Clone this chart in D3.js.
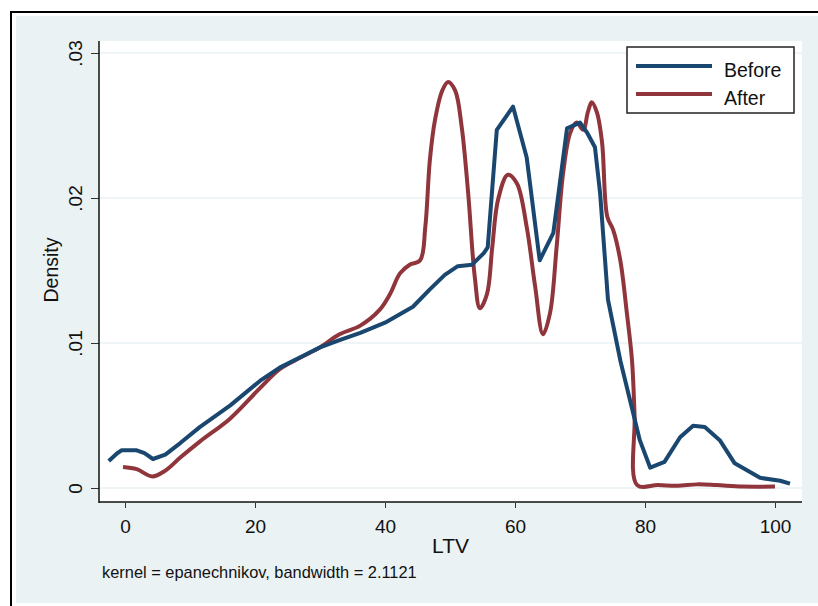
<!DOCTYPE html>
<html>
<head>
<meta charset="utf-8">
<script src="https://cdn.jsdelivr.net/npm/d3@7"></script>
<style>
  body { margin: 0; background: #fff; }
  svg text { font-family: "Liberation Sans", Arial, sans-serif; fill: #111; }
</style>
</head>
<body>
<svg id="chart" width="818" height="606"></svg>
<script>
// values
let beforeX = [-2.5, -1.2, -0.5, 1.8, 3, 4.3, 6.2, 8.5, 11.5, 16.2, 20.8, 23.8, 26.9, 30, 33, 36.2, 40, 44.3, 46.9, 49.2, 51.2, 53.4, 55.2, 55.8, 57.2, 59.7, 61.8, 63.8, 65.9, 68, 70, 71.1, 72.3, 73.1, 74.3, 76.2, 79.2, 80.8, 83, 85.4, 87.4, 89.2, 91.5, 93.8, 97.7, 100.8, 102.3];
let beforeY = [0.00186, 0.0024, 0.0026, 0.0026, 0.0024, 0.0020, 0.0023, 0.0031, 0.0042, 0.0057, 0.0074, 0.0083, 0.0090, 0.0097, 0.0102, 0.0107, 0.0114, 0.0125, 0.0137, 0.0147, 0.0153, 0.0154, 0.0162, 0.0166, 0.0247, 0.0263, 0.0228, 0.0157, 0.0176, 0.0248, 0.0252, 0.0245, 0.0235, 0.0203, 0.013, 0.0088, 0.0033, 0.0014, 0.0018, 0.0035, 0.0043, 0.0042, 0.0033, 0.0017, 0.0007, 0.0005, 0.0003];

let afterX = [-0.3, 1.8, 4.2, 6.2, 8.5, 11.5, 16.2, 20.8, 23.8, 27, 30, 33, 36.2, 39.2, 40.8, 42.3, 43.8, 45.4, 46.2, 46.9, 47.7, 48.8, 49.7, 50.8, 51.8, 52.8, 53.8, 54.6, 55.7, 56.5, 57.4, 58.9, 60.3, 61.8, 63.1, 64.3, 65.4, 66.4, 67.4, 68.5, 69.5, 70.5, 71.2, 71.8, 72.6, 73.4, 74.2, 75.1, 76.2, 77.2, 78, 78.4, 78.8, 82, 85, 88, 91, 95, 100];
let afterY = [0.00145, 0.0013, 0.0008, 0.0012, 0.0021, 0.0032, 0.0048, 0.0069, 0.0082, 0.0090, 0.0097, 0.0106, 0.0112, 0.0123, 0.0134, 0.0148, 0.0154, 0.0157, 0.018, 0.0226, 0.0254, 0.0274, 0.028, 0.0274, 0.0249, 0.0203, 0.0146, 0.0124, 0.0134, 0.0166, 0.0199, 0.0216, 0.021, 0.018, 0.0139, 0.0106, 0.0121, 0.0166, 0.0217, 0.0245, 0.0252, 0.0247, 0.0259, 0.0266, 0.0259, 0.0238, 0.0187, 0.0178, 0.0157, 0.0121, 0.0088, 0.005, 0.0002, 0.0002, 0.00015, 0.00025, 0.0002, 0.0001, 0.0001];

let xTicks = [0, 20, 40, 60, 80, 100];
let yTicks = [0, 0.01, 0.02, 0.03];
let yTickLabels = ['0', '.01', '.02', '.03'];
let seriesNames = ['Before', 'After'];
let seriesColors = ['#1a476f', '#90353b'];

let svg = d3.select('#chart');

// plot region
let plotLeft = 99, plotRight = 802, plotTop = 41, plotBottom = 502;

let x = d3.scaleLinear().domain([0, 100]).range([125, 775]);
let y = d3.scaleLinear().domain([0, 0.03]).range([488, 53]);

// outer frame + graph region
svg.append('rect').attr('x', 16).attr('y', 16).attr('width', 802).attr('height', 587).attr('fill', '#eaf2f3');
svg.append('line').attr('x1', 11).attr('x2', 11).attr('y1', 11).attr('y2', 606).attr('stroke', '#000').attr('stroke-width', 2);
svg.append('line').attr('x1', 10).attr('x2', 818).attr('y1', 12).attr('y2', 12).attr('stroke', '#000').attr('stroke-width', 2);

svg.append('rect').attr('x', plotLeft).attr('y', plotTop)
  .attr('width', plotRight - plotLeft).attr('height', plotBottom - plotTop).attr('fill', '#fff');

// gridlines
svg.selectAll('.grid').data(yTicks).enter().append('line')
  .attr('x1', plotLeft).attr('x2', plotRight)
  .attr('y1', d => y(d)).attr('y2', d => y(d))
  .attr('stroke', '#eaf2f3').attr('stroke-width', 1.5);

// axes
let yAxis = d3.axisLeft(y).tickValues(yTicks).tickSize(8).tickFormat((d, i) => yTickLabels[i]);
let gy = svg.append('g').attr('transform', `translate(${plotLeft},0)`).call(yAxis);
gy.select('.domain').remove();
gy.selectAll('.tick line').attr('stroke', '#333').attr('stroke-width', 1);
gy.selectAll('.tick text')
  .attr('x', null).attr('dy', null)
  .attr('transform', 'translate(-17,0) rotate(-90)')
  .attr('text-anchor', 'middle')
  .style('font-size', '19px');

let xAxis = d3.axisBottom(x).tickValues(xTicks).tickSize(6).tickPadding(0);
let gx = svg.append('g').attr('transform', `translate(0,${plotBottom})`).call(xAxis);
gx.select('.domain').remove();
gx.selectAll('.tick line').attr('stroke', '#333').attr('stroke-width', 1).attr('y1', 1).attr('y2', 6);
gx.selectAll('.tick text').attr('y', 31).attr('dy', null).style('font-size', '19px');

svg.append('line').attr('x1', plotLeft).attr('x2', plotLeft).attr('y1', plotTop).attr('y2', plotBottom + 1)
  .attr('stroke', '#111').attr('stroke-width', 1.5);
svg.append('line').attr('x1', plotLeft).attr('x2', plotRight).attr('y1', plotBottom).attr('y2', plotBottom)
  .attr('stroke', '#111').attr('stroke-width', 1.5);

// titles
svg.append('text').attr('x', (plotLeft + plotRight) / 2).attr('y', 553).attr('text-anchor', 'middle')
  .style('font-size', '21px').text('LTV');
svg.append('text').attr('transform', `translate(58,270) rotate(-90)`).attr('text-anchor', 'middle')
  .style('font-size', '19.5px').text('Density');
svg.append('text').attr('x', 102).attr('y', 578).style('font-size', '16.4px')
  .text('kernel = epanechnikov, bandwidth = 2.1121');

// density lines: Before is drawn straight-segmented, After smoother
let lineBefore = d3.line()
  .x(d => x(d[0]))
  .y(d => y(d[1]));
let lineAfter = d3.line()
  .x(d => x(d[0]))
  .y(d => y(d[1]))
  .curve(d3.curveCatmullRom.alpha(0.5));

let series = [d3.zip(beforeX, beforeY), d3.zip(afterX, afterY)];
let lines = [lineBefore, lineAfter];
svg.selectAll('.density').data([1, 0]).enter().append('path')
  .attr('d', i => lines[i](series[i]))
  .attr('fill', 'none')
  .attr('stroke', i => seriesColors[i])
  .attr('stroke-width', 4)
  .attr('stroke-linejoin', 'round');

// legend
let legend = svg.append('g');
legend.append('rect').attr('x', 627).attr('y', 47).attr('width', 167).attr('height', 66)
  .attr('fill', '#fff').attr('stroke', '#222').attr('stroke-width', 1.5);
seriesNames.forEach((name, i) => {
  legend.append('line').attr('x1', 636).attr('x2', 712).attr('y1', 66 + i * 28).attr('y2', 66 + i * 28)
    .attr('stroke', seriesColors[i]).attr('stroke-width', 4);
  legend.append('text').attr('x', 724).attr('y', 76.5 + i * 28).style('font-size', '19.5px').text(name);
});
</script>
</body>
</html>
